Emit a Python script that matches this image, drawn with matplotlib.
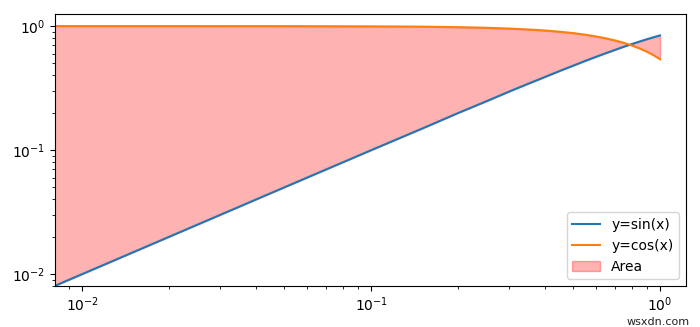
import matplotlib
matplotlib.use("Agg")
import matplotlib.pyplot as plt

x_vals = [0.008, 0.01, 0.02, 0.05, 0.1, 0.15, 0.2, 0.25, 0.3, 0.35, 0.4, 0.45,
          0.5, 0.55, 0.6, 0.65, 0.7, 0.75, 0.8, 0.85, 0.9, 0.95, 1.0]
sin_vals = [0.008, 0.01, 0.02, 0.05, 0.0998, 0.149, 0.199, 0.247, 0.296, 0.343,
            0.389, 0.435, 0.479, 0.523, 0.565, 0.605, 0.644, 0.682, 0.717,
            0.751, 0.783, 0.813, 0.841]
cos_vals = [1.0, 1.0, 1.0, 0.999, 0.995, 0.989, 0.980, 0.969, 0.955, 0.939,
            0.921, 0.900, 0.878, 0.852, 0.825, 0.796, 0.765, 0.732, 0.697,
            0.660, 0.622, 0.582, 0.540]
labels = ["y=sin(x)", "y=cos(x)", "Area"]

fig = plt.figure(figsize=(7, 3.27), dpi=100)
ax = fig.add_axes([0.079, 0.125, 0.901, 0.832])
ax.plot(x_vals, sin_vals, color="#1f77b4", label=labels[0])
ax.plot(x_vals, cos_vals, color="#ff7f0e", label=labels[1])
ax.fill_between(x_vals, sin_vals, cos_vals, color="red", alpha=0.3, label=labels[2])
ax.set_xscale("log")
ax.set_yscale("log")
ax.set_xlim(0.00807, 1.23)
ax.set_ylim(0.008, 1.25)
ax.legend(loc="lower right")
fig.text(0.985, 0.0, "wsxdn.com", ha="right", va="bottom", fontsize=8, color="#222222")
fig.savefig("out.png", dpi=100)
